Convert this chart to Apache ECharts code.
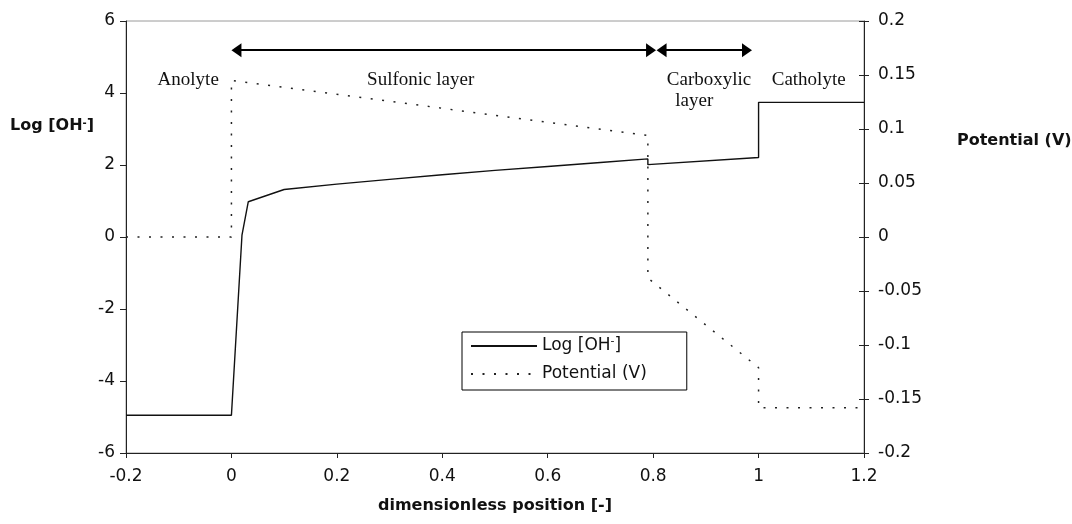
<!DOCTYPE html>
<html>
<head>
<meta charset="utf-8">
<title>Log [OH-] and potential across the membrane</title>
<script src="https://cdn.jsdelivr.net/npm/echarts@6/dist/echarts.min.js"></script>
<style>
  html, body { margin: 0; padding: 0; background: #fff; }
  #chart { width: 1072px; height: 524px; }
</style>
</head>
<body>
<div id="chart"></div>
<script>
// values
const logX = [-0.2, 0, 0.02, 0.032, 0.1, 0.2, 0.3, 0.4, 0.5, 0.6, 0.7, 0.79, 0.79, 1.0, 1.0, 1.2];
const logY = [-4.95, -4.95, 0.05, 0.98, 1.32, 1.47, 1.6, 1.73, 1.85, 1.96, 2.07, 2.17, 2.01, 2.21, 3.74, 3.74];

const potX = [-0.2, 0, 0, 0.79, 0.79, 1.0, 1.0, 1.2];
const potY = [0, 0, 0.145, 0.094, -0.038, -0.121, -0.158, -0.158];

// axis ranges [min, max, step]
const xRange = [-0.2, 1.2, 0.2];
const logRange = [-6, 6, 2];
const potRange = [-0.2, 0.2, 0.05];

// region labels (x, y on the left axis)
const regionText = ['Anolyte', 'Sulfonic layer', 'Carboxylic', 'layer', 'Catholyte'];
const regionX = [-0.082, 0.359, 0.906, 0.878, 1.095];
const regionY = [4.36, 4.36, 4.36, 3.78, 4.36];

// double arrows (from, to) at height arrowY
const arrowFrom = [0.0095, 0.816];
const arrowTo = [0.796, 0.978];
const arrowY = 5.19;

const logName = 'Log [OH-]';
const potName = 'Potential (V)';

const sans = 'DejaVu Sans';
const serif = 'Liberation Serif';
const ink = '#111';

const supRich = {
  sup: { fontSize: 11, lineHeight: 11, verticalAlign: 'top', fontFamily: sans, color: ink }
};
const supBoldRich = {
  sup: { fontSize: 10, lineHeight: 10, verticalAlign: 'top', fontFamily: sans, fontWeight: 'bold', color: ink }
};

const axisLineStyle = { show: true, onZero: false, lineStyle: { color: '#222', width: 1 } };

const chart = echarts.init(document.getElementById('chart'));

chart.setOption({
  animation: false,
  backgroundColor: '#fff',
  grid: {
    left: 126, right: 208, top: 21, bottom: 71,
    show: true, borderColor: '#9a9a9a', borderWidth: 1
  },
  legend: {
    orient: 'vertical',
    left: 462, top: 332,
    data: [logName, potName],
    itemWidth: 66, itemHeight: 14, itemGap: 8,
    padding: [4, 40, 6, 8],
    borderColor: '#000', borderWidth: 1,
    backgroundColor: '#fff',
    selectedMode: false,
    // hide the marker dot, keep only the line sample
    itemStyle: { color: 'rgba(0,0,0,0)', borderColor: 'rgba(0,0,0,0)', borderWidth: 0, opacity: 0 },
    textStyle: { fontFamily: sans, fontSize: 17, color: ink, lineHeight: 20, rich: supRich },
    formatter: (name) => name.replace('-]', '{sup|-}]')
  },
  graphic: [
    {
      type: 'text', left: 10, top: 118,
      style: { text: 'Log [OH{sup|-}]', fontFamily: sans, fontWeight: 'bold', fontSize: 16, fill: ink, rich: supBoldRich }
    },
    {
      type: 'text', left: 957, top: 133,
      style: { text: 'Potential (V)', fontFamily: sans, fontWeight: 'bold', fontSize: 16, fill: ink }
    }
  ],
  xAxis: {
    type: 'value',
    min: xRange[0], max: xRange[1], interval: xRange[2],
    name: 'dimensionless position [-]',
    nameLocation: 'middle', nameGap: 45,
    nameTextStyle: { fontFamily: sans, fontWeight: 'bold', fontSize: 16, color: ink },
    axisLine: axisLineStyle,
    axisTick: { length: 5, lineStyle: { color: '#222' } },
    axisLabel: { fontFamily: sans, fontSize: 17, color: ink, margin: 15 },
    splitLine: { show: false }
  },
  yAxis: [
    {
      type: 'value', position: 'left',
      min: logRange[0], max: logRange[1], interval: logRange[2],
      axisLine: axisLineStyle,
      axisTick: { show: true, length: 6, lineStyle: { color: '#222' } },
      axisLabel: { fontFamily: sans, fontSize: 17, color: ink, margin: 11 },
      splitLine: { show: false }
    },
    {
      type: 'value', position: 'right',
      min: potRange[0], max: potRange[1], interval: potRange[2],
      axisLine: axisLineStyle,
      axisTick: { show: true, length: 5, lineStyle: { color: '#222' } },
      axisLabel: { fontFamily: sans, fontSize: 17, color: ink, margin: 14 },
      splitLine: { show: false }
    },
    {
      // inner half of the crossing ticks on the right axis
      type: 'value', position: 'right',
      min: potRange[0], max: potRange[1], interval: potRange[2],
      axisLine: { show: false, onZero: false },
      axisTick: { show: true, inside: true, length: 5, lineStyle: { color: '#222' } },
      axisLabel: { show: false },
      splitLine: { show: false }
    }
  ],
  series: [
    {
      name: logName,
      type: 'line',
      yAxisIndex: 0,
      symbol: 'none',
      data: logX.map((x, i) => [x, logY[i]]),
      lineStyle: { color: '#111', width: 1.4, type: 'solid' },
      itemStyle: { color: '#111' },
      markLine: {
        silent: true,
        symbol: ['triangle', 'triangle'],
        symbolSize: [14, 10],
        label: { show: false },
        lineStyle: { color: '#000', width: 2, type: 'solid' },
        data: arrowFrom.map((x, i) => [
          { coord: [x, arrowY] },
          { coord: [arrowTo[i], arrowY] }
        ])
      },
      markPoint: {
        silent: true,
        symbol: 'rect',
        symbolSize: 1,
        itemStyle: { color: 'rgba(0,0,0,0)' },
        label: {
          show: true, position: 'inside', formatter: '{b}',
          fontFamily: serif, fontSize: 19, color: ink
        },
        data: regionText.map((t, i) => ({ name: t, coord: [regionX[i], regionY[i]] }))
      }
    },
    {
      name: potName,
      type: 'line',
      yAxisIndex: 1,
      symbol: 'none',
      data: potX.map((x, i) => [x, potY[i]]),
      lineStyle: { color: '#222', width: 1.5, type: [2, 9.5] },
      itemStyle: { color: '#222' }
    }
  ]
});
</script>
</body>
</html>
